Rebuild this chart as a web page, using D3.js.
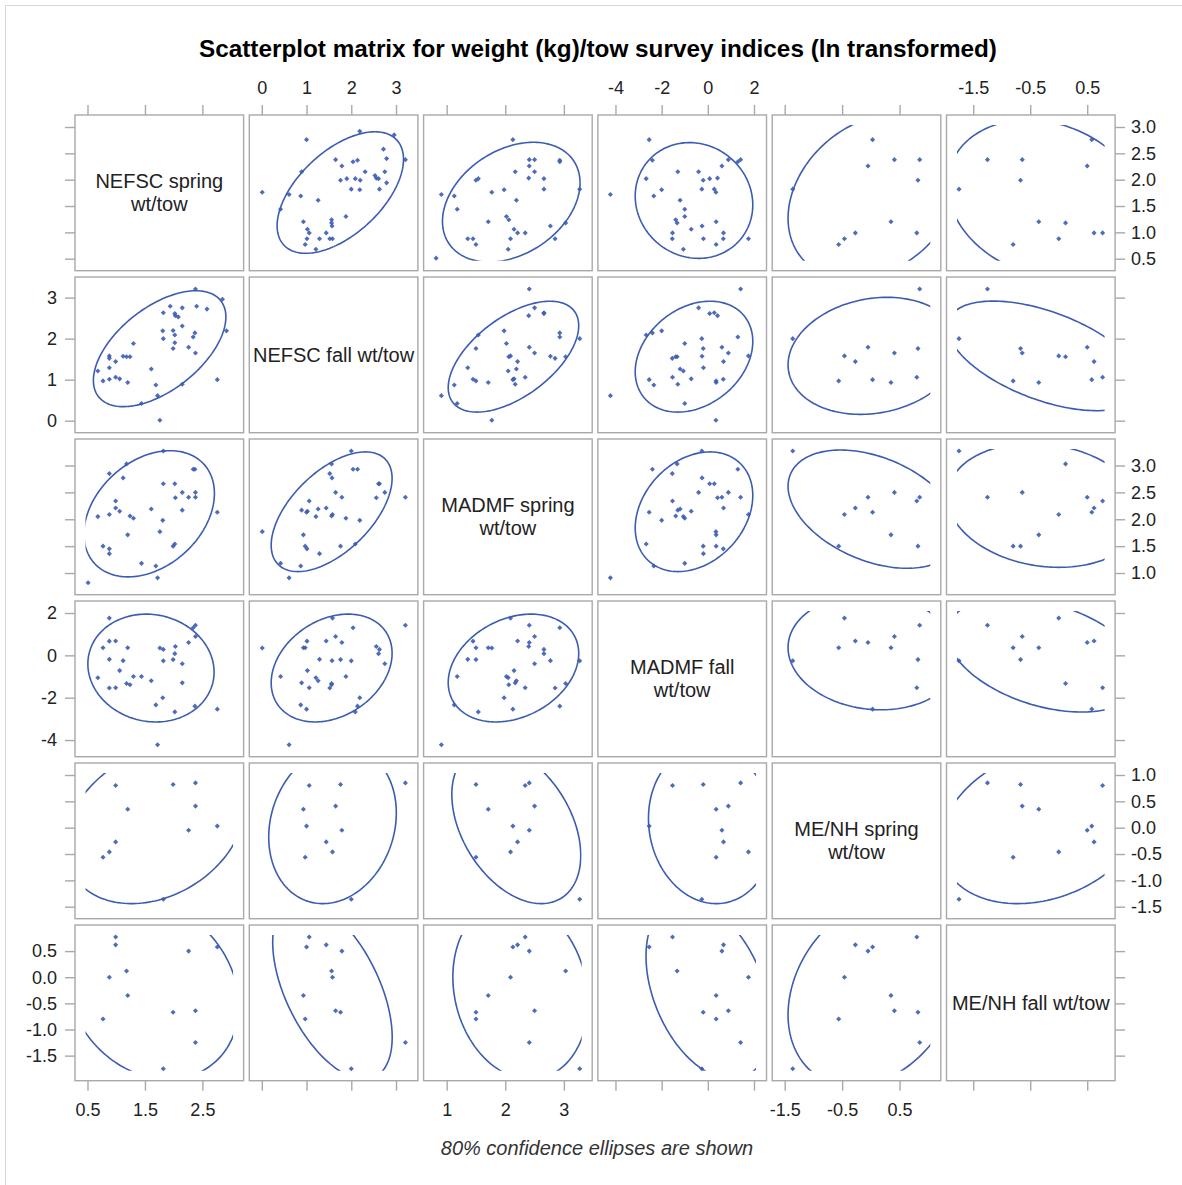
<!DOCTYPE html>
<html>
<head>
<meta charset="utf-8">
<script src="https://cdn.jsdelivr.net/npm/d3@7"></script>
<style>
  body { margin: 0; background: #fff; }
  svg { display: block; }
  text { font-family: "Liberation Sans", Arial, Helvetica, sans-serif; }
</style>
</head>
<body>
<svg id="chart" width="1182" height="1185"></svg>
<script>
// ---------------- DATA (ln transformed weight/tow indices, one entry per survey year) ----------------
const varLabels = [
  ["NEFSC spring", "wt/tow"],
  ["NEFSC fall wt/tow"],
  ["MADMF spring", "wt/tow"],
  ["MADMF fall", "wt/tow"],
  ["ME/NH spring", "wt/tow"],
  ["ME/NH fall wt/tow"]
];

const nefscSpring = [2.38, 1.99, 0.99, 2.38, 1.20, 2.26, 2.76, 0.99, 0.88, 0.77, 1.82, 1.18,
  2.37, 2.34, 2.15, 2.15, 2.03, 2.02, 2.02, 1.82, 1.81, 1.76, 1.72, 1.69, 1.61, 1.44, 1.30, 1.24,
  1.12, 1.06, 0.88, 0.88, 0.88, 0.68, 0.51,
  2.92, 2.85, 2.58, 2.40, 2.15, 2.08, 2.02, 1.99, 1.94];

const nefscFall = [3.21, 1.76, 1.06, 1.65, 0.93, 1.79, 1.00, 1.44, 1.58, 0.97, 2.00, 1.56,
  2.14, 2.04, 0.89, 2.75, 2.56, 2.61, 2.09, 2.63, 2.19, 0.01, 0.61, 0.87, 1.26, 0.42, 1.88, 1.56,
  1.57, 1.02, 1.29, 1.01, 1.52, 1.21, null,
  2.19, 2.96, 2.72, 2.79, 2.31, 2.53, 1.90, 2.20, 2.79];

const madmfSpring = [2.41, 1.50, 2.34, 2.50, 1.71, 2.41, 2.13, 2.21, 2.09, 1.50, 3.27, 3.03,
  2.93, 2.93, 2.17, 2.50, 2.40, 2.66, 1.54, 2.66, 1.98, 1.77, 0.91, 1.13, 2.19, 1.18, 2.02, 2.06,
  2.77, 2.15, 1.36, 1.45, 2.85, 2.05, 0.82,
  null, null, null, null, null, null, null, null, null];

const madmfFall = [1.42, -0.20, -1.53, 0.89, 0.36, 0.61, -2.54, 0.68, 1.76, 0.36, -0.26, -1.33,
  -2.40, 1.30, -1.30, -0.40, 0.42, 0.08, -2.67, 0.28, -2.00, 0.35, -4.22, -2.34, -1.20, -1.00, -1.00, -1.39,
  -0.25, -0.72, -0.19, 0.67, -1.54, -1.06, null,
  null, null, null, null, null, null, null, null, null];

const menhSpring = [0.85, 0.82, 0.80, 0.41, 0.35, -0.05, 0.03, -0.27, -0.46, -0.56, -1.36, null,
  null, null, null, null, null, null, null, null, null, null, null, null, null, null, null, null,
  null, null, null, null, null, null, null,
  null, null, null, null, null, null, null, null, null];

const menhFall = [-1.25, -0.67, 0.77, -0.64, -0.35, 0.50, 0.58, 0.62, 0.00, -0.80, -1.75, 0.12,
  null, null, null, null, null, null, null, null, null, null, null, null, null, null, null, null,
  null, null, null, null, null, null, null,
  null, null, null, null, null, null, null, null, null];

// tick values: column (x) axes and row (y) axes
const colTicks = [[0.5, 1.5, 2.5], [0, 1, 2, 3], [1, 2, 3], [-4, -2, 0, 2], [-1.5, -0.5, 0.5], [-1.5, -0.5, 0.5]];
const rowTicks = [[0.5, 1, 1.5, 2, 2.5, 3], [0, 1, 2, 3], [1, 1.5, 2, 2.5, 3], [-4, -2, 0, 2],
                  [-1.5, -1, -0.5, 0, 0.5, 1], [-1.5, -1, -0.5, 0, 0.5]];
const colFormats = [".1f", "d", "d", "d", ".1f", ".1f"];
const rowFormats = [".1f", "d", ".1f", "d", ".1f", ".1f"];

const titleText = "Scatterplot matrix for weight (kg)/tow survey indices (ln transformed)";
const footText = "80% confidence ellipses are shown";
const ellipseAlpha = 0.2;   // 80% prediction ellipses

// ---------------- LAYOUT ----------------
const W = 1182, H = 1185;
const L = 75, T = 115;          // top-left of matrix
const CW = 168.6, CH = 155.7;   // cell size
const SX = 174.3, SY = 162.0;   // cell pitch
const PX = 12.5, PY = 12;       // inner offsets
const thr = 0.31;               // axis extension threshold (fraction of tick interval)

const frameColor = "#a9a9a9";
const markColor = "#3c5cb2";
const textColor = "#222";

const vars = [nefscSpring, nefscFall, madmfSpring, madmfFall, menhSpring, menhFall];
const N = vars.length;

const domains = vars.map((v, i) => {
  const ext = d3.extent(v);
  const step = rowTicks[i][1] - rowTicks[i][0];
  let lo = ext[0], hi = ext[1];
  const tl = Math.floor(lo / step + 1e-9) * step;
  if (lo - tl <= thr * step + 1e-9) lo = tl;
  const th = Math.ceil(hi / step - 1e-9) * step;
  if (th - hi <= thr * step + 1e-9) hi = th;
  return [lo, hi];
});

const xS = domains.map((d, j) => d3.scaleLinear().domain(d).range([L + j * SX + PX, L + j * SX + CW - PX]));
const yS = domains.map((d, i) => d3.scaleLinear().domain(d).range([T + i * SY + CH - PY, T + i * SY + PY]));

const fmt = f => (v => d3.format(f)(v).replace("\u2212", "-"));

const svg = d3.select("#chart");
svg.append("rect").attr("width", W).attr("height", H).attr("fill", "#fff");
svg.append("path").attr("d", "M5.5," + H + "V5.5H" + W)
  .attr("fill", "none").attr("stroke", "#d6d6d6").attr("stroke-width", 1);

// title
svg.append("text").attr("x", 598).attr("y", 57).attr("text-anchor", "middle")
  .attr("font-size", 24.3).attr("font-weight", "bold").attr("fill", "#000").text(titleText);
// footnote
svg.append("text").attr("x", 597).attr("y", 1155).attr("text-anchor", "middle")
  .attr("font-size", 20).attr("font-style", "italic").attr("fill", "#333").text(footText);

const defs = svg.append("defs");

function ellipse(xs, ys) {
  const n = xs.length;
  const mx = d3.mean(xs), my = d3.mean(ys);
  let sxx = 0, syy = 0, sxy = 0;
  for (let k = 0; k < n; k++) {
    const dx = xs[k] - mx, dy = ys[k] - my;
    sxx += dx * dx; syy += dy * dy; sxy += dx * dy;
  }
  sxx /= (n - 1); syy /= (n - 1); sxy /= (n - 1);
  const m = n - 2;
  const F = (m / 2) * (Math.pow(ellipseAlpha, -2 / m) - 1);
  const c = Math.sqrt(2 * (n + 1) * (n - 1) / (n * (n - 2)) * F);
  const a = Math.sqrt(sxx), b = sxy / a, e = Math.sqrt(Math.max(syy - b * b, 0));
  return d3.range(0, 361, 2).map(t => {
    const r = t * Math.PI / 180;
    return [mx + c * a * Math.cos(r), my + c * (b * Math.cos(r) + e * Math.sin(r))];
  });
}

const marker = d3.symbol().type(d3.symbolSquare).size(13);

for (let i = 0; i < N; i++) {
  for (let j = 0; j < N; j++) {
    const x0 = L + j * SX, y0 = T + i * SY;
    const g = svg.append("g");
    g.append("rect").attr("x", x0).attr("y", y0).attr("width", CW).attr("height", CH)
      .attr("fill", "#fff").attr("stroke", frameColor).attr("stroke-width", 1.4);
    if (i === j) {
      const lines = varLabels[i];
      const cx = x0 + CW / 2, cy = y0 + CH / 2;
      const t = g.append("text").attr("text-anchor", "middle").attr("font-size", 20).attr("fill", textColor);
      if (lines.length === 1) {
        t.append("tspan").attr("x", cx).attr("y", cy + 7).text(lines[0]);
      } else {
        t.append("tspan").attr("x", cx).attr("y", cy - 4.5).text(lines[0]);
        t.append("tspan").attr("x", cx).attr("y", cy + 18.2).text(lines[1]);
      }
      continue;
    }
    const idx = d3.range(vars[j].length).filter(k => vars[j][k] != null && vars[i][k] != null);
    const xs = idx.map(k => vars[j][k]), ys = idx.map(k => vars[i][k]);
    const cid = "clip-" + i + "-" + j;
    defs.append("clipPath").attr("id", cid).append("rect")
      .attr("x", x0 + PX - 2).attr("y", y0 + PY - 2)
      .attr("width", CW - 2 * PX + 4).attr("height", CH - 2 * PY + 4);
    const line = d3.line().x(p => xS[j](p[0])).y(p => yS[i](p[1]));
    g.append("path").attr("clip-path", "url(#" + cid + ")")
      .attr("d", line(ellipse(xs, ys)))
      .attr("fill", "none").attr("stroke", markColor).attr("stroke-width", 1.6);
    g.selectAll("path.pt").data(idx).join("path").attr("class", "pt")
      .attr("d", marker)
      .attr("transform", k => `translate(${xS[j](vars[j][k])},${yS[i](vars[i][k])}) rotate(45)`)
      .attr("fill", markColor).attr("fill-opacity", 0.9);
  }
}

function styleAxis(sel) {
  sel.select(".domain").remove();
  sel.selectAll(".tick line").attr("stroke", frameColor).attr("stroke-width", 1.4);
  sel.selectAll(".tick text").attr("fill", textColor).attr("font-size", 18)
    .attr("font-family", "'Liberation Sans', Arial, sans-serif");
}

for (let j = 0; j < N; j++) {
  // top axes: labels on columns 2,4,6
  const top = d3.axisTop(xS[j]).tickValues(colTicks[j]).tickSize(10).tickPadding(11)
    .tickFormat(j % 2 === 1 ? fmt(colFormats[j]) : () => "");
  svg.append("g").attr("transform", `translate(0,${T})`).call(top).call(styleAxis);
  // bottom axes: labels on columns 1,3,5
  const bot = d3.axisBottom(xS[j]).tickValues(colTicks[j]).tickSize(10).tickPadding(12.5)
    .tickFormat(j % 2 === 0 ? fmt(colFormats[j]) : () => "");
  svg.append("g").attr("transform", `translate(0,${T + (N - 1) * SY + CH})`).call(bot).call(styleAxis);
}
for (let i = 0; i < N; i++) {
  // left axes: labels on rows 2,4,6
  const left = d3.axisLeft(yS[i]).tickValues(rowTicks[i]).tickSize(10).tickPadding(8)
    .tickFormat(i % 2 === 1 ? fmt(rowFormats[i]) : () => "");
  svg.append("g").attr("transform", `translate(${L},0)`).call(left).call(styleAxis);
  // right axes: labels on rows 1,3,5
  const right = d3.axisRight(yS[i]).tickValues(rowTicks[i]).tickSize(10).tickPadding(6)
    .tickFormat(i % 2 === 0 ? fmt(rowFormats[i]) : () => "");
  svg.append("g").attr("transform", `translate(${L + (N - 1) * SX + CW},0)`).call(right).call(styleAxis);
}
</script>
</body>
</html>
